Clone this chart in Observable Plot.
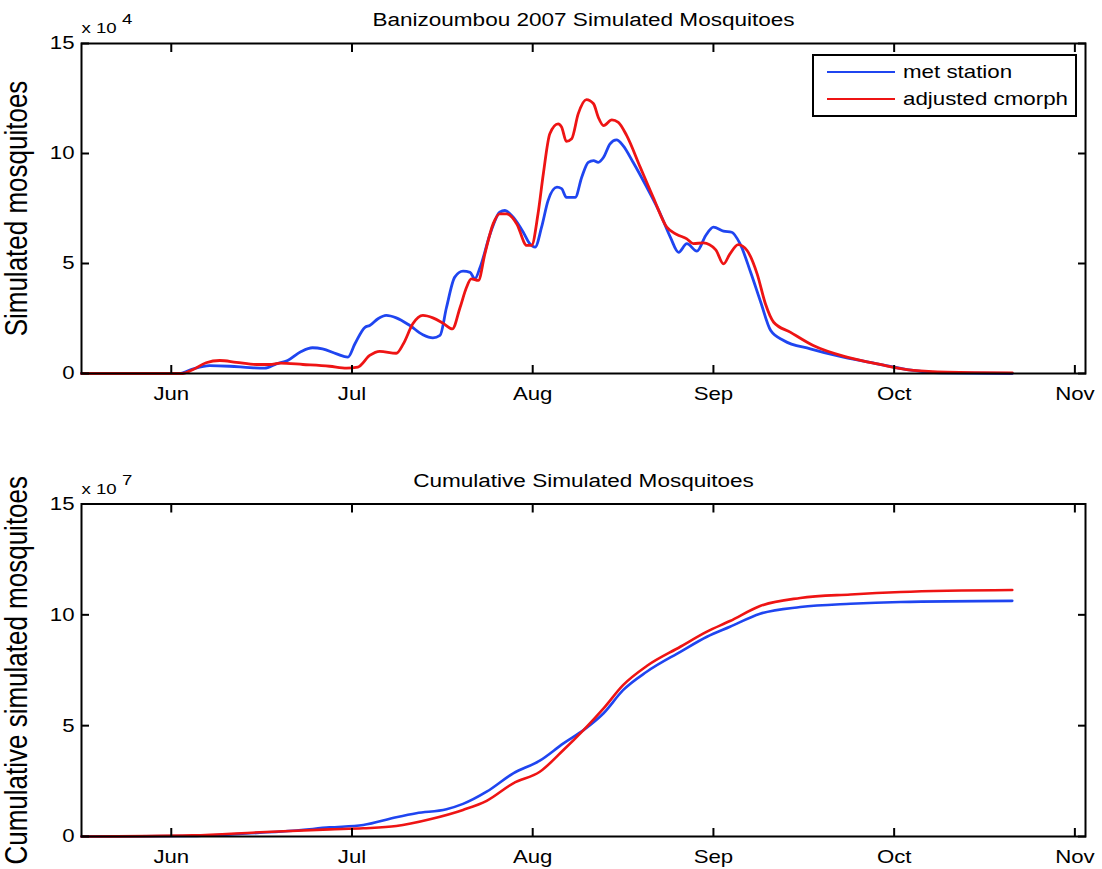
<!DOCTYPE html>
<html><head><meta charset="utf-8">
<script src="https://cdn.jsdelivr.net/npm/d3@7"></script>
<script src="https://cdn.jsdelivr.net/npm/@observablehq/plot@0.6"></script>
<style>
html,body{margin:0;padding:0;background:#fff;}
#chart{position:relative;width:1102px;height:869px;font-family:"Liberation Sans",Arial,sans-serif;color:#000;}
#chart svg{display:block;}
.legend{position:absolute;left:812px;top:54px;width:265px;height:63px;box-sizing:border-box;border:2px solid #000;background:#fff;}
.legend .sw{position:absolute;left:13px;width:68px;height:2.8px;}
.legend .lb{position:absolute;left:89px;font-size:18.6px;line-height:22px;white-space:nowrap;transform:scaleX(1.2);transform-origin:left center;}
</style></head>
<body><div id="chart"></div>
<script>
// ---- data (day of year 2007; values in units of 10^4 / 10^7) ----
const monthTicks = [152, 182.6, 213.2, 243.8, 274.4, 305.0];
const monthLabels = ["Jun", "Jul", "Aug", "Sep", "Oct", "Nov"];
const yTicks = [0, 5, 10, 15];
const seriesNames = ["met station", "adjusted cmorph"];
const seriesColors = ["#1f45f0", "#ee1414"];

const metDays = [136.8,153.4,155.6,158.5,161.9,165.3,167.8,169.8,171.7,174.0,175.9,177.6,180.0,181.9,183.1,184.8,185.6,187.0,188.4,190.1,192.4,194.6,196.3,197.5,198.6,200.0,201.4,202.6,203.4,204.3,206.0,207.6,208.5,209.9,211.6,212.7,213.6,214.7,215.8,217.3,218.1,218.9,220.4,221.5,222.6,223.5,224.3,225.2,226.3,227.4,228.5,230.2,232.5,234.8,236.5,237.9,239.3,241.0,242.5,243.8,245.5,246.9,248.3,250.1,251.8,253.5,255.7,260.2,265.8,271.5,276.6,282.2,294.4];
const metCounts = [0,0,0.2,0.36,0.33,0.27,0.24,0.44,0.59,1.0,1.17,1.12,0.89,0.74,1.35,2.1,2.18,2.49,2.64,2.53,2.18,1.76,1.62,1.73,3.0,4.38,4.65,4.6,4.3,4.83,6.35,7.33,7.41,7.1,6.42,5.9,5.74,6.65,7.86,8.47,8.4,8.01,8.01,8.92,9.6,9.68,9.6,9.83,10.44,10.62,10.36,9.6,8.47,7.26,6.2,5.51,5.9,5.56,6.27,6.65,6.47,6.42,5.9,4.6,3.25,1.95,1.5,1.12,0.74,0.44,0.18,0.03,0.0];

const cmorphDays = [136.8,153.9,155.6,157.9,160.2,163.0,166.4,168.7,170.4,174.3,178.8,181.7,183.6,185.6,187.3,190.1,191.3,192.9,194.6,196.3,198.0,199.6,200.9,202.0,202.8,204.0,205.1,206.5,207.6,208.8,210.5,212.2,213.0,214.1,215.0,216.1,217.5,218.1,218.9,219.8,220.9,222.3,223.5,224.3,225.2,226.6,227.7,229.1,231.4,233.6,235.9,237.6,239.3,240.4,242.1,244.2,245.5,246.6,248.0,249.5,251.2,252.6,254.0,256.8,260.7,266.4,272.0,277.7,283.4,294.4];
const cmorphCounts = [0,0,0.17,0.49,0.59,0.51,0.41,0.41,0.47,0.41,0.33,0.24,0.29,0.82,1.01,0.92,1.35,2.26,2.64,2.53,2.29,2.03,3.0,3.92,4.3,4.23,5.44,6.8,7.26,7.26,6.8,5.82,5.82,7.26,9.08,10.9,11.35,11.2,10.55,10.67,11.8,12.45,12.26,11.65,11.27,11.53,11.42,10.82,9.38,8.01,6.65,6.32,6.12,5.9,5.94,5.62,4.98,5.44,5.86,5.59,4.53,3.17,2.33,1.88,1.27,0.74,0.41,0.14,0.06,0.03];

const cumMetDays = [136.8,155.6,167.0,172.6,178.8,184.5,190.1,193.5,198.6,201.4,205.4,209.9,214.4,218.4,221.8,225.2,228.5,232.5,238.2,242.7,246.6,251.7,258.5,267.0,275.5,294.4];
const cumMetValues = [0,0.02,0.17,0.26,0.41,0.52,0.87,1.05,1.23,1.47,2.02,2.85,3.42,4.2,4.8,5.56,6.6,7.43,8.33,9.01,9.46,10.05,10.35,10.5,10.58,10.63];

const cumCmorphDays = [136.8,155.6,167.0,178.8,184.5,190.1,195.8,201.4,205.4,209.9,214.4,218.4,221.8,225.2,228.5,232.5,238.2,242.7,246.6,251.7,258.5,267.0,275.5,294.4];
const cumCmorphValues = [0,0.05,0.19,0.32,0.37,0.47,0.78,1.2,1.61,2.4,2.92,3.9,4.8,5.78,6.83,7.69,8.56,9.24,9.72,10.4,10.76,10.92,11.03,11.12];

const xDomain = [136.8, 306.8];
const FONT = '"Liberation Sans", Arial, sans-serif';

function panel({series, title, yLabel, exponent, height, marginTop, marginBottom, lineWidth}) {
  const marks = [];
  series.forEach(s => marks.push(Plot.line(d3.zip(s.days, s.values), {
    x: d => d[0], y: d => d[1], stroke: s.color, strokeWidth: lineWidth,
    curve: "monotone-x", strokeLinejoin: "round", strokeLinecap: "round"
  })));
  marks.push(
    Plot.frame({stroke: "#000", strokeWidth: 2}),
    Plot.axisX({ticks: monthTicks, anchor: "bottom", tickSize: -8, strokeWidth: 2, fill: "none", label: null}),
    Plot.axisX({ticks: monthTicks, anchor: "top", tickSize: -8, strokeWidth: 2, fill: "none", label: null}),
    Plot.axisX({ticks: monthTicks, anchor: "bottom", tickSize: 0, tickPadding: 13, label: null,
      tickFormat: d => monthLabels[monthTicks.indexOf(d)]}),
    Plot.axisY({ticks: yTicks, anchor: "left", tickSize: -8, strokeWidth: 2, fill: "none", label: null}),
    Plot.axisY({ticks: yTicks, anchor: "right", tickSize: -8, strokeWidth: 2, fill: "none", label: null}),
    Plot.axisY({ticks: yTicks, anchor: "left", tickSize: 0, tickPadding: 7, label: null, tickFormat: d => String(d)}),
    Plot.text([title], {text: d => d, frameAnchor: "top", lineAnchor: "middle", dy: -23.5, fontSize: 18.8, fill: "#000"}),
    Plot.text(["x 10"], {text: d => d, frameAnchor: "top-left", textAnchor: "start", lineAnchor: "middle", dy: -15, fontSize: 15.5, fill: "#000"}),
    Plot.text([exponent], {text: d => d, frameAnchor: "top-left", textAnchor: "start", lineAnchor: "middle", dx: 40.5, dy: -24.4, fontSize: 15.5, fill: "#000"}),
    Plot.text([yLabel], {text: d => d, frameAnchor: "left", rotate: -90, textAnchor: "middle", lineAnchor: "top", dx: -76.7, fontSize: 26, fill: "#000"})
  );
  return Plot.plot({
    width: 1102, height, marginLeft: 81, marginRight: 17, marginTop, marginBottom,
    x: {domain: xDomain},
    y: {domain: [0, 15]},
    style: {fontFamily: FONT, fontSize: "18.5px", color: "#000", background: "#fff", overflow: "visible"},
    marks
  });
}

function stretchText(svg) {
  svg.querySelectorAll("text").forEach(t => {
    const tr = t.getAttribute("transform") || "";
    if (tr.includes("rotate")) {
      t.setAttribute("transform", tr + " scale(1,1.2)");
      return;
    }
    const L = t.getComputedTextLength();
    if (L > 0) {
      t.setAttribute("textLength", (L * 1.2).toFixed(2));
      t.setAttribute("lengthAdjust", "spacingAndGlyphs");
    }
  });
}

const chart = document.getElementById("chart");

const topPlot = panel({
  series: [
    {days: metDays, values: metCounts, color: seriesColors[0]},
    {days: cmorphDays, values: cmorphCounts, color: seriesColors[1]}
  ],
  title: "Banizoumbou 2007 Simulated Mosquitoes",
  yLabel: "Simulated mosquitoes",
  exponent: "4",
  height: 435, marginTop: 43, marginBottom: 62, lineWidth: 2.8
});
chart.appendChild(topPlot);

const bottomPlot = panel({
  series: [
    {days: cumMetDays, values: cumMetValues, color: seriesColors[0]},
    {days: cumCmorphDays, values: cumCmorphValues, color: seriesColors[1]}
  ],
  title: "Cumulative Simulated Mosquitoes",
  yLabel: "Cumulative simulated mosquitoes",
  exponent: "7",
  height: 434, marginTop: 68.5, marginBottom: 33, lineWidth: 2.6
});
chart.appendChild(bottomPlot);

stretchText(topPlot);
stretchText(bottomPlot);

// legend
const legend = document.createElement("div");
legend.className = "legend";
seriesNames.forEach((name, i) => {
  const sw = document.createElement("div");
  sw.className = "sw";
  sw.style.top = (16 + i * 27 - 1.4) + "px";
  sw.style.background = seriesColors[i];
  legend.appendChild(sw);
  const lb = document.createElement("div");
  lb.className = "lb";
  lb.style.top = (16 + i * 27 - 11) + "px";
  lb.textContent = name;
  legend.appendChild(lb);
});
chart.appendChild(legend);
</script>
</body></html>
